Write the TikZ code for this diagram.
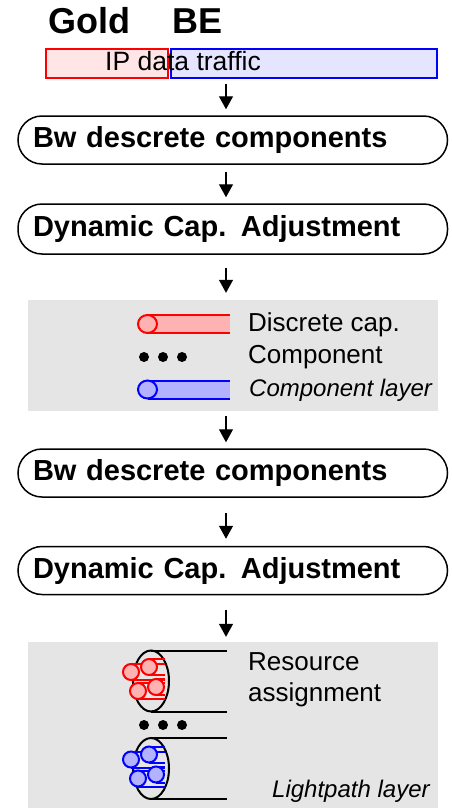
\documentclass[tikz,border=0pt]{standalone}
\usepackage{fontspec}
\setmainfont{Liberation Sans}
\usetikzlibrary{arrows.meta}
\tikzset{
  stage/.style={draw, line width=1.5pt, rounded corners=24pt, minimum width=429.5pt, minimum height=48pt,
    inner xsep=15pt, text width=399.5pt, align=left, font=\fontsize{29}{34}\selectfont\bfseries},
  layer/.style={fill=gray!20, inner sep=0pt},
  flow/.style={line width=1.4pt, -{Triangle[width=14pt,length=13pt]}},
  lbl/.style={anchor=base west, inner sep=0pt, font=\fontsize{26}{31}\selectfont},
  note/.style={anchor=base west, inner sep=0pt, font=\fontsize{24}{29}\selectfont\itshape},
  class/.style={anchor=base west, inner sep=0pt, font=\fontsize{36}{40}\selectfont\bfseries},
  share/.style={inner sep=0pt, minimum height=29pt},
  capsule/.pic={
    \fill[#1!30] (0,-9) rectangle (82.5,9);
    \draw[#1, line width=2pt] (82.5,-9) -- (0,-9) (0,9) -- (82.5,9);
    \draw[#1, line width=2pt, fill=#1!30] (0,0) ellipse [x radius=9.5, y radius=9];
  },
  bundle/.pic={
    \draw[line width=2pt] (0,0) ellipse [x radius=18, y radius=30.5];
    \draw[line width=2pt] (0,-30.5) -- (76,-30.5) (0,30.5) -- (76,30.5);
    \foreach \cx/\cy in {-20/-9,-2/-14,-13/10,5/6}
      \draw[#1, line width=2pt] (\cx,\cy-8) -- (14,\cy-8) (\cx,\cy+8) -- (14,\cy+8);
    \foreach \cx/\cy in {-20/-9,-2/-14,-13/10,5/6}
      \draw[#1, line width=2pt, fill=#1!30] (\cx,\cy) circle [radius=8];
  }
}
\begin{document}
\begin{tikzpicture}[x=1pt, y=-1pt]
\useasboundingbox (0,0) rectangle (452,808);
\coordinate (axis) at (226,0);

% traffic classes
\node[class] (goldlbl) at (48,34) {Gold};
\node[class] (belbl) at (172,34) {BE};
\node[share, draw=red, line width=2pt, fill=red!10, minimum width=122pt] (gold) at (107,63.5) {};
\node[share, draw=blue, line width=1.3pt, fill=blue!10, minimum width=266pt] (be) at (304,63.5) {};
\node[anchor=base west, inner sep=0pt, font=\fontsize{26.5}{31}\selectfont] (traffic) at (105,70.5) {IP data traffic};

% upper stages
\node[stage] (bw1) at (232.75,140) {Bw descrete components};
\node[stage, minimum height=50pt] (dca1) at (232.75,229) {Dynamic Cap. Adjustment};

% component layer
\node[layer, minimum width=410pt, minimum height=111pt] (complayer) at (233,355.5) {};
\pic at (147.5,324) {capsule=red};
\foreach \x in {144,163,182} \fill (\x,357) circle [radius=5];
\pic at (147.5,389.5) {capsule=blue};
\node[lbl] (disc) at (248,331.5) {Discrete cap.};
\node[lbl] (comp) at (248,363) {Component};
\node[note] (compl) at (249,396.5) {Component layer};

% lower stages
\node[stage] (bw2) at (232.75,473) {Bw descrete components};
\node[stage] (dca2) at (232.75,570.5) {Dynamic Cap. Adjustment};

% lightpath layer
\node[layer, minimum width=410pt, minimum height=166pt] (lplayer) at (233,725) {};
\pic at (151,681) {bundle=red};
\foreach \x in {144,163,182} \fill (\x,725) circle [radius=5];
\pic at (151,768.5) {bundle=blue};
\node[lbl] (res) at (248,670) {Resource};
\node[lbl] (asg) at (248,701.5) {assignment};
\node[note] (lpl) at (272,797) {Lightpath layer};

% arrows
\draw[flow, shorten <=5pt, shorten >=6pt] (be.south -| axis) -- (bw1.north -| axis);
\draw[flow, shorten <=7pt, shorten >=6pt] (bw1.south -| axis) -- (dca1.north -| axis);
\draw[flow, shorten <=13pt, shorten >=7pt] (dca1.south -| axis) -- (complayer.north -| axis);
\draw[flow, shorten <=5pt, shorten >=6pt] (complayer.south -| axis) -- (bw2.north -| axis);
\draw[flow, shorten <=15pt, shorten >=7pt] (bw2.south -| axis) -- (dca2.north -| axis);
\draw[flow, shorten <=15pt, shorten >=5pt] (dca2.south -| axis) -- (lplayer.north -| axis);
\end{tikzpicture}
\end{document}
